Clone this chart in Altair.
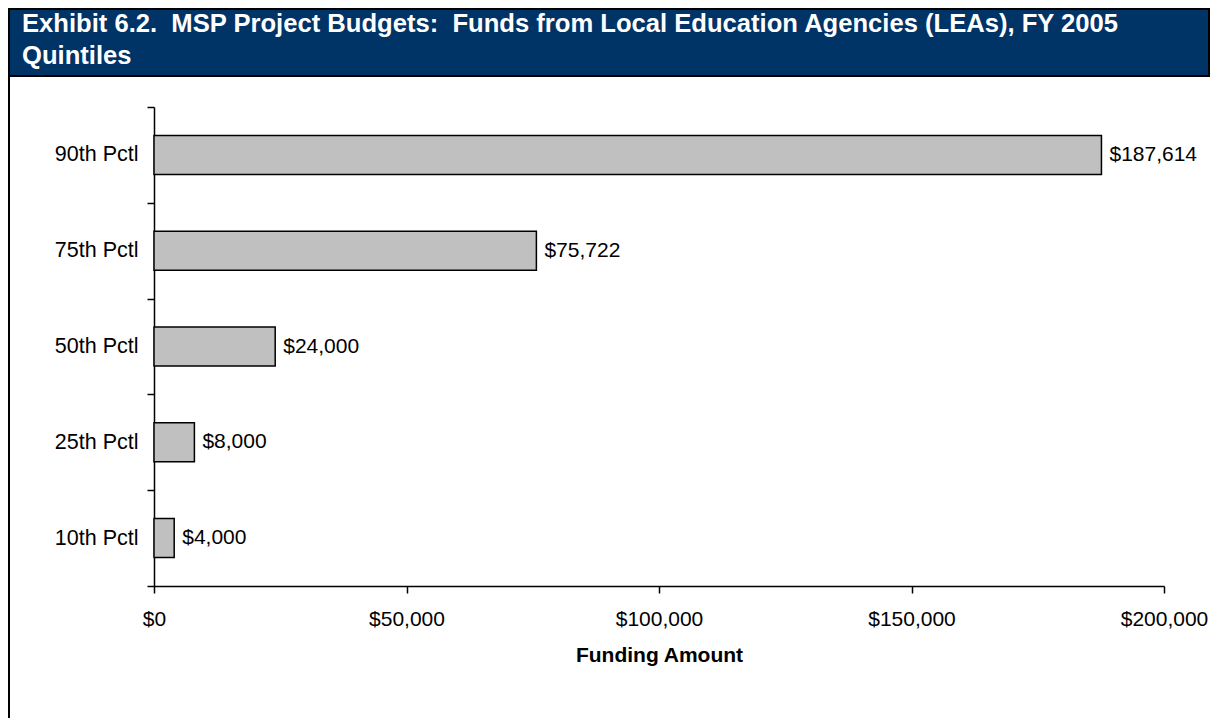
import altair as alt
import pandas as pd

categories = ["90th Pctl", "75th Pctl", "50th Pctl", "25th Pctl", "10th Pctl"]
values = [187614, 75722, 24000, 8000, 4000]
x_ticks = [0, 50000, 100000, 150000, 200000]
title_lines = [
    "Exhibit 6.2.\u00a0 MSP Project Budgets:\u00a0 Funds from Local Education Agencies (LEAs), FY 2005",
    "Quintiles",
]
x_title = "Funding Amount"

FONT = "Liberation Sans"
df = pd.DataFrame({"pct": categories, "value": values})
one = pd.DataFrame({"k": [0]})

W, H = 1010, 479

base = alt.Chart(df)

y_enc = alt.Y(
    "pct:N",
    sort=categories,
    scale=alt.Scale(paddingInner=0, paddingOuter=0),
    axis=alt.Axis(
        title=None, tickBand="extent", domainColor="black", domainWidth=1.5,
        tickColor="black", tickWidth=1.5, tickSize=7, labelFont=FONT,
        labelFontSize=21.5, labelColor="black", labelPadding=9,
    ),
)
x_enc = alt.X(
    "value:Q",
    scale=alt.Scale(domain=[0, 200000], nice=False),
    axis=alt.Axis(
        values=x_ticks, format="$,.0f", title=x_title, grid=False,
        labelFlush=False, labelOverlap=False,
        domainColor="black", domainWidth=1.5, tickColor="black", tickWidth=1.5,
        tickSize=7, labelFont=FONT, labelFontSize=21, labelColor="black",
        labelPadding=15, titleFont=FONT, titleFontSize=21, titleFontWeight="bold",
        titleColor="black", titlePadding=15,
    ),
)

bars = base.mark_bar(color="#c0c0c0", stroke="black", strokeWidth=1.5, size=39).encode(
    y=y_enc, x=x_enc
)
labels = base.mark_text(align="left", baseline="middle", dx=8, font=FONT, fontSize=21, color="black").encode(
    y=alt.Y("pct:N", sort=categories), x=alt.X("value:Q"),
    text=alt.Text("value:Q", format="$,.0f"),
)

banner = alt.Chart(one).mark_rect(fill="#003366", stroke="black", strokeWidth=2).encode(
    x=alt.value(-145), x2=alt.value(1055), y=alt.value(-98), y2=alt.value(-31)
)
border = alt.Chart(one).mark_rule(color="black", strokeWidth=2).encode(
    x=alt.value(-145), y=alt.value(-31), y2=alt.value(H + 140)
)
title = alt.Chart(one).mark_text(
    align="left", baseline="alphabetic", font=FONT, fontSize=25.6, fontWeight="bold",
    color="white", lineHeight=31.5,
).encode(x=alt.value(-132), y=alt.value(-75), text=alt.value(title_lines))

chart = alt.layer(banner, border, title, bars, labels).properties(
    width=W, height=H,
    autosize=alt.AutoSizeParams(type="none"),
    padding={"left": 146, "top": 99, "right": 46, "bottom": 132},
).configure_view(stroke=None)

chart.save("out.html", embed_options={"renderer": "svg", "actions": False})
